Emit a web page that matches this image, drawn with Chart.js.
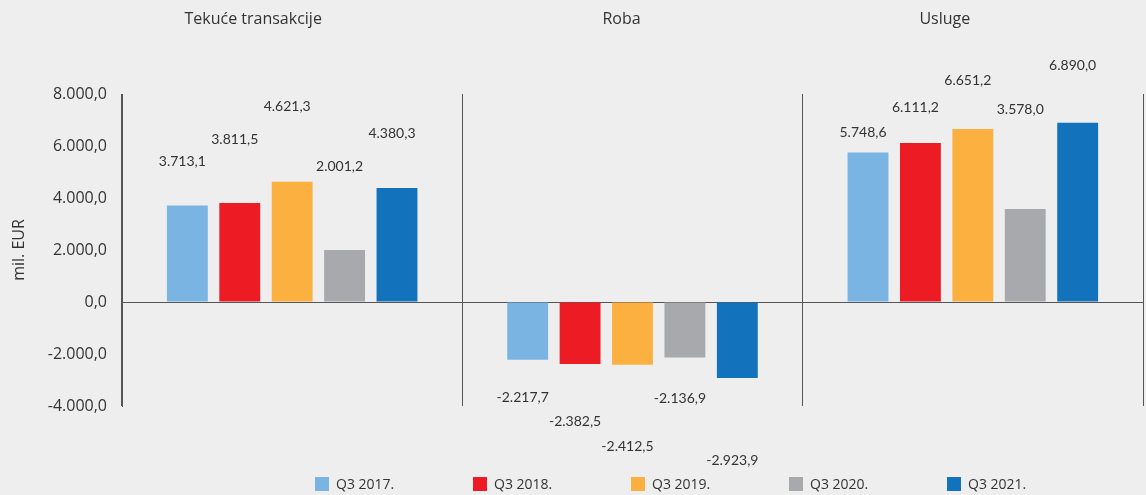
<!DOCTYPE html>
<html lang="hr">
<head>
    <meta charset="UTF-8" />
    <title>Tekuće transakcije, roba, usluge</title>
    <script src="https://cdn.jsdelivr.net/npm/chart.js"></script>
    <style>
        html, body { margin: 0; padding: 0; background: #eeeeee; }
        #wrap { width: 1146px; height: 495px; }
    </style>
</head>
<body>
    <div id="wrap"><canvas id="chart"></canvas></div>

    <script>
        // data
        const categories = ["Tekuće transakcije", "Roba", "Usluge"];
        const seriesNames = ["Q3 2017.", "Q3 2018.", "Q3 2019.", "Q3 2020.", "Q3 2021."];
        const q3_2017 = [3713.1, -2217.7, 5748.6];
        const q3_2018 = [3811.5, -2382.5, 6111.2];
        const q3_2019 = [4621.3, -2412.5, 6651.2];
        const q3_2020 = [2001.2, -2136.9, 3578.0];
        const q3_2021 = [4380.3, -2923.9, 6890.0];
        const yTicks = [-4000, -2000, 0, 2000, 4000, 6000, 8000];

        // styling
        const colors = ["#79b4e3", "#ed1c24", "#fbb040", "#a7a9ac", "#1273bc"];
        // how far each value label sits from the end of its bar (px), per series
        const labelGap = [
            [44, 38, 20],
            [63, 58, 36],
            [75, 82, 49],
            [83, 41, 99],
            [55, 82, 57]
        ];
        const titleShift = [-39, -11, -28];
        const FONT = "'Open Sans', Lato, sans-serif";
        const TEXT = "#333333";

        const fmt = (v) => {
            const neg = v < 0;
            const parts = Math.abs(v).toFixed(1).split(".");
            const int = parts[0].replace(/\B(?=(\d{3})+(?!\d))/g, ".");
            return (neg ? "-" : "") + int + "," + parts[1];
        };

        const allSeries = [q3_2017, q3_2018, q3_2019, q3_2020, q3_2021];

        const valueLabels = {
            id: "valueLabels",
            afterDatasetsDraw(chart) {
                const ctx = chart.ctx;
                ctx.save();
                ctx.font = "14px Lato, sans-serif";
                ctx.fillStyle = TEXT;
                ctx.textAlign = "center";
                ctx.textBaseline = "middle";
                chart.data.datasets.forEach((ds, di) => {
                    chart.getDatasetMeta(di).data.forEach((bar, i) => {
                        const v = ds.data[i];
                        const gap = labelGap[di][i];
                        const y = v >= 0 ? bar.y - gap : bar.y + gap;
                        ctx.fillText(fmt(v), bar.x - 5, y);
                    });
                });
                ctx.restore();
            }
        };

        const groupTitles = {
            id: "groupTitles",
            afterDraw(chart) {
                const ctx = chart.ctx;
                const xs = chart.scales.x;
                ctx.save();
                ctx.font = "16px " + FONT;
                ctx.fillStyle = TEXT;
                ctx.textAlign = "center";
                ctx.textBaseline = "middle";
                categories.forEach((c, i) => {
                    ctx.fillText(c, xs.getPixelForValue(i) + titleShift[i], 19);
                });
                ctx.restore();
            }
        };

        // legend with evenly spaced items, like the original
        const bottomLegend = {
            id: "bottomLegend",
            afterDraw(chart) {
                const ctx = chart.ctx;
                const area = chart.chartArea;
                const step = 158;
                const y = 484;
                let x = area.left + 193;
                ctx.save();
                ctx.font = "14px " + FONT;
                ctx.textAlign = "left";
                ctx.textBaseline = "middle";
                chart.data.datasets.forEach((ds) => {
                    ctx.fillStyle = ds.backgroundColor;
                    ctx.fillRect(x, y - 7, 14, 14);
                    ctx.fillStyle = TEXT;
                    ctx.fillText(ds.label, x + 21, y + 1);
                    x += step;
                });
                ctx.restore();
            }
        };

        new Chart(document.getElementById("chart"), {
            type: "bar",
            data: {
                labels: categories,
                datasets: allSeries.map((d, i) => ({
                    label: seriesNames[i],
                    data: d,
                    backgroundColor: colors[i],
                    borderWidth: 0,
                    categoryPercentage: 0.77,
                    barPercentage: 0.78
                }))
            },
            options: {
                responsive: true,
                maintainAspectRatio: false,
                animation: false,
                layout: { padding: { top: 94, right: 3, bottom: 0, left: 0 } },
                plugins: {
                    tooltip: { enabled: false },
                    legend: { display: false }
                },
                scales: {
                    x: {
                        ticks: { display: false },
                        border: { display: false },
                        grid: { color: "#555555", lineWidth: 1, drawTicks: false, offset: true },
                        afterFit: (s) => { s.height = 89; }
                    },
                    y: {
                        min: -4000,
                        max: 8000,
                        afterBuildTicks: (s) => { s.ticks = yTicks.map(v => ({ value: v })); },
                        afterFit: (s) => { s.width = 122; },
                        border: { display: true, color: "#555555" },
                        grid: {
                            drawTicks: false,
                            color: (c) => c.tick && c.tick.value === 0 ? "#555555" : "rgba(0,0,0,0)"
                        },
                        ticks: {
                            padding: 15,
                            color: TEXT,
                            font: { family: FONT, size: 16 },
                            callback: (v) => fmt(v)
                        },
                        title: {
                            display: true,
                            text: "mil. EUR",
                            color: TEXT,
                            font: { family: FONT, size: 16 },
                            padding: { top: 10, bottom: 0 }
                        }
                    }
                }
            },
            plugins: [valueLabels, groupTitles, bottomLegend]
        });
    </script>
</body>
</html>
